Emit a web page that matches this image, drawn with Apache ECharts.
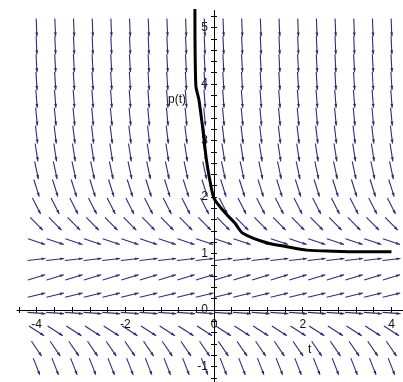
<!DOCTYPE html>
<html>
<head>
<meta charset="utf-8">
<script src="https://cdn.jsdelivr.net/npm/echarts@6/dist/echarts.min.js"></script>
<style>
html,body{margin:0;padding:0;background:#fff;}
#c{width:403px;height:382px;}
</style>
</head>
<body>
<div id="c"></div>
<script>
// direction-field grid (t columns, p rows) and the slope read for each row
const tGrid = [-4, -3.579, -3.158, -2.737, -2.316, -1.895, -1.474, -1.053, -0.632, -0.211,
               0.211, 0.632, 1.053, 1.474, 1.895, 2.316, 2.737, 3.158, 3.579, 4];
const pGrid = [-1, -0.684, -0.368, -0.053, 0.263, 0.579, 0.895, 1.211, 1.526, 1.842,
               2.158, 2.474, 2.789, 3.105, 3.421, 3.737, 4.053, 4.368, 4.684, 5];
const rowSlopes = [-2.0, -1.15, -0.5, -0.056, 0.19, 0.24, 0.09, -0.26, -0.8, -1.55,
                   -2.5, -3.65, -5.0, -6.5, -8.3, -10.2, -12.4, -14.7, -17.3, -20];

// solution curve p(t)
const solT = [-0.43, -0.41, -0.34, -0.25, -0.16, -0.05, 0, 0.07, 0.25, 0.47, 0.65, 1.19, 1.64, 2.09, 2.68, 3.29, 4.0];
const solP = [5.35, 3.98, 3.72, 3.19, 2.60, 2.12, 1.98, 1.89, 1.72, 1.54, 1.36, 1.19, 1.12, 1.06, 1.04, 1.03, 1.03];

// axis ticks and labels
const xTicks = [-4.4, -4, -3.6, -3.2, -2.8, -2.4, -2, -1.6, -1.2, -0.8, -0.4, 0, 0.4, 0.8, 1.2, 1.6, 2, 2.4, 2.8, 3.2, 3.6, 4];
const xLabels = [-4, -2, 0, 2, 4];
const yTicks = [-1.2, -1, -0.8, -0.6, -0.4, -0.2, 0, 0.2, 0.4, 0.6, 0.8, 1, 1.2, 1.4, 1.6, 1.8, 2, 2.2, 2.4, 2.6, 2.8, 3, 3.2, 3.4, 3.6, 3.8, 4, 4.2, 4.4, 4.6, 4.8, 5, 5.2];
const yLabels = [-1, 0, 1, 2, 3, 4, 5];

const fieldData = [];
tGrid.forEach(t => pGrid.forEach((p, i) => fieldData.push([t, p, rowSlopes[i]])));
const solData = solT.map((t, i) => [t, solP[i]]);

const ARROW = '#2a2e78';
const FONT = 'Liberation Sans, Arial, sans-serif';

const X_MIN = -4.44, X_MAX = 4.26, Y_MIN = -1.3, Y_MAX = 5.3;
const G_LEFT = 17, G_TOP = 10.5, G_W = 386, G_H = 373;
// shift the axes onto the zero lines of the other axis
const xOff = -(G_H * (0 - Y_MIN) / (Y_MAX - Y_MIN));
const yOff = -(G_W * (0 - X_MIN) / (X_MAX - X_MIN));

const chart = echarts.init(document.getElementById('c'), null, {renderer: 'canvas'});

function xAxisDef(inside, showLabel, showLine) {
  return {
    type: 'value', min: X_MIN, max: X_MAX, position: 'bottom', offset: xOff,
    axisLine: {show: showLine, onZero: false, lineStyle: {color: '#000', width: 1}},
    axisTick: {show: true, inside: inside, length: 3, customValues: xTicks, lineStyle: {color: '#000'}},
    axisLabel: {show: showLabel, customValues: xLabels, margin: 9, color: '#111', fontSize: 12, fontFamily: FONT},
    splitLine: {show: false}
  };
}
function yAxisDef(inside, showLabel, showLine) {
  return {
    type: 'value', min: Y_MIN, max: Y_MAX, position: 'left', offset: yOff,
    axisLine: {show: showLine, onZero: false, lineStyle: {color: '#000', width: 1}},
    axisTick: {show: true, inside: inside, length: 3, customValues: yTicks, lineStyle: {color: '#000'}},
    axisLabel: {show: showLabel, customValues: yLabels, margin: 6, color: '#111', fontSize: 12, fontFamily: FONT},
    splitLine: {show: false}
  };
}

chart.setOption({
  animation: false,
  backgroundColor: '#fff',
  grid: {left: G_LEFT, top: G_TOP, width: G_W, height: G_H, containLabel: false, outerBoundsMode: 'none'},
  xAxis: [xAxisDef(false, true, true), xAxisDef(true, false, false)],
  yAxis: [yAxisDef(false, true, true), yAxisDef(true, false, false)],
  graphic: [
    {type: 'text', left: 308, top: 344, style: {text: 't', font: '12px ' + FONT, fill: '#111'}},
    {type: 'text', left: 168, top: 94, style: {text: 'p(t)', font: '12px ' + FONT, fill: '#111'}}
  ],
  series: [
    {
      type: 'custom',
      xAxisIndex: 0, yAxisIndex: 0,
      data: fieldData,
      clip: false,
      z: 1,
      renderItem: function (params, api) {
        const c = api.coord([api.value(0), api.value(1)]);
        const s = api.size([1, 1]);
        let dx = s[0], dy = -api.value(2) * s[1];
        const n = Math.hypot(dx, dy); dx /= n; dy /= n;
        const h = 9;
        const x1 = c[0] - dx * h, y1 = c[1] - dy * h, x2 = c[0] + dx * h, y2 = c[1] + dy * h;
        const hl = 4, hw = 1.5, px = -dy, py = dx;
        return {
          type: 'group',
          children: [
            {type: 'line', shape: {x1: x1, y1: y1, x2: x2, y2: y2}, style: {stroke: ARROW, lineWidth: 1.1}},
            {type: 'polygon', shape: {points: [[x2, y2],
              [x2 - dx * hl + px * hw, y2 - dy * hl + py * hw],
              [x2 - dx * hl - px * hw, y2 - dy * hl - py * hw]]}, style: {fill: ARROW}}
          ]
        };
      }
    },
    {
      type: 'line',
      data: solData,
      smooth: 0.3,
      showSymbol: false,
      symbol: 'none',
      z: 5,
      lineStyle: {color: '#000', width: 3}
    }
  ]
});
</script>
</body>
</html>
